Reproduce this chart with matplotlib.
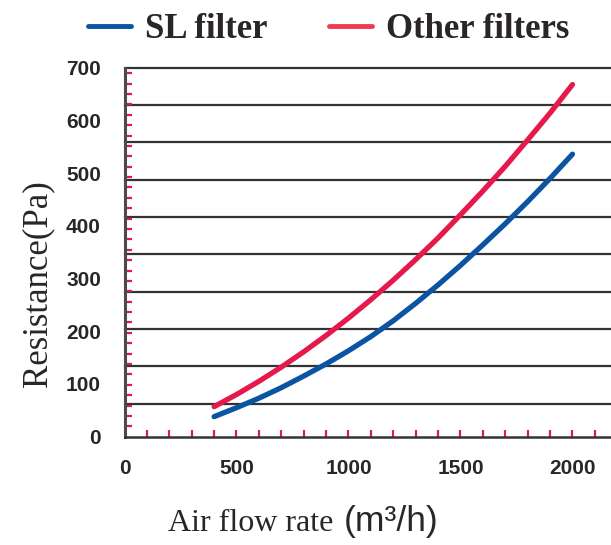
import numpy as np
import matplotlib
matplotlib.use('Agg')
import matplotlib.pyplot as plt
from matplotlib.lines import Line2D

# air flow (m3/h) and resistance (Pa)
flow = [400, 500, 600, 700, 800, 900, 1000, 1100, 1200, 1300, 1400, 1500,
        1600, 1700, 1800, 1900, 2000]
sl_filter = [38, 55, 73, 93, 115, 138, 163, 190, 220, 253, 288, 325,
             364, 404, 446, 490, 536]
other_filters = [57, 80, 105, 132, 161, 192, 225, 260, 297, 336, 377, 421,
                 466, 513, 563, 614, 668]

x_labels = [0, 500, 1000, 1500, 2000]
y_labels = [0, 100, 200, 300, 400, 500, 600, 700]

blue = '#0a54a3'
red = '#e5194b'
txt = '#2b2626'

fig = plt.figure(figsize=(6.11, 5.45), dpi=100)
ax = fig.add_axes([124.5 / 611, 1 - 436.7 / 545, 1 - 124.5 / 611, (436.7 - 67.7) / 545])

# horizontal rules of the drawing (spaced differently from the labels)
for lv in np.arange(700, 50, -70.8):
    ax.axhline(lv, color='#333333', lw=1.6, clip_on=False, zorder=1)

ax.plot(flow, sl_filter, color=blue, lw=3.8, solid_capstyle='round', zorder=3)
ax.plot(flow, other_filters, color=red, lw=3.8, solid_capstyle='round', zorder=3)

ax.set_xlim(0, 2172)
ax.set_ylim(0, 700)

ax.spines['top'].set_visible(False)
ax.spines['right'].set_visible(False)
ax.spines['left'].set_color('#4a4a4a')
ax.spines['left'].set_linewidth(2.2)
ax.spines['bottom'].set_color('#333333')
ax.spines['bottom'].set_linewidth(1.8)

ax.set_xticks(x_labels)
ax.set_yticks(y_labels)
ax.set_xticks(np.arange(100, 2200, 100), minor=True)
ax.set_yticks(np.arange(19.7, 690, 19.7), minor=True)
ax.xaxis.remove_overlapping_locs = False
ax.yaxis.remove_overlapping_locs = False

tick_font = dict(family=['Liberation Sans', 'DejaVu Sans'], weight='bold', size=15)
ax.set_xticklabels([str(v) for v in x_labels], fontdict=tick_font, color=txt)
ax.set_yticklabels([str(v) for v in y_labels], fontdict=tick_font, color=txt)
ax.tick_params(axis='both', which='major', length=0)
ax.tick_params(axis='x', which='major', pad=16)
ax.tick_params(axis='y', which='major', pad=17)
ax.tick_params(axis='both', which='minor', direction='in', length=5,
               width=1.6, color=red)

serif = ['Liberation Serif', 'DejaVu Serif']
fig.text(38 / 611, 1 - 284 / 545, 'Resistance(Pa)', rotation=90, ha='center',
         va='center', family=serif, size=25, color=txt)
fig.text(168 / 611, 14 / 545, 'Air flow rate', ha='left', va='baseline',
         family=serif, size=23, color=txt)
fig.text(344 / 611, 14 / 545, '(m³/h)', ha='left', va='baseline',
         family=['Liberation Sans', 'DejaVu Sans'], size=25.5, color=txt)

handles = [Line2D([], [], color=blue, lw=3.5, solid_capstyle='round'),
           Line2D([], [], color='#f03a4e', lw=3.5, solid_capstyle='round')]
fig.legend(handles, ['SL filter', 'Other filters'], loc='upper left',
           bbox_to_anchor=(88 / 611, 1 - 13 / 545), ncol=2, frameon=False,
           borderpad=0, borderaxespad=0, handlelength=1.25, handletextpad=0.4,
           columnspacing=1.75,
           prop=dict(family=serif, weight='bold', size=25))
for t in fig.legends[0].get_texts():
    t.set_color(txt)

fig.savefig('out.png', dpi=100)
